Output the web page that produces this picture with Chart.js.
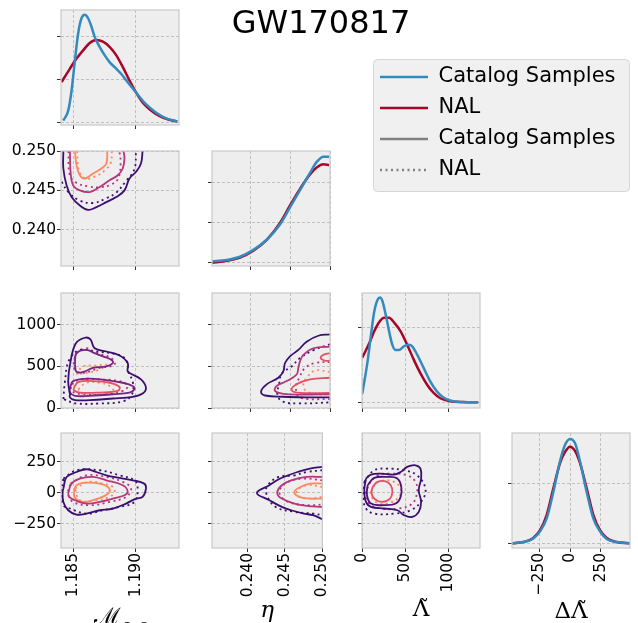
<!DOCTYPE html>
<html>
<head>
<meta charset="utf-8">
<script src="https://cdn.jsdelivr.net/npm/chart.js@4.4.1/dist/chart.umd.min.js"></script>
<style>
  html, body { margin: 0; padding: 0; background: #fff; width: 638px; height: 623px; overflow: hidden; }
  canvas { position: absolute; }
</style>
</head>
<body>
<canvas id="figure" width="638" height="623" style="left:0;top:0"></canvas>
<script>
// GW170817 corner plot: catalog samples vs NAL

// ---- tick values / labels ----
const mcTicks = [1.185, 1.190];
const mcTickLabels = ['1.185', '1.190'];
const etaTicks = [0.240, 0.245, 0.250];
const etaTickLabels = ['0.240', '0.245', '0.250'];
const lamTicks = [0, 500, 1000];
const lamTickLabels = ['0', '500', '1000'];
const dlamTicks = [-250, 0, 250];
const dlamTickLabels = ['\u2212250', '0', '250'];
const densityTicks2 = [0, 1, 2];
const densityTicks1 = [0, 1];

// ---- 1D marginals ----
const mcCatX = [1.18418,1.18458,1.18485,1.18512,1.18538,1.18565,1.18592,1.18618,1.18645,1.18671,1.18711,1.18751,1.18791,1.18844,1.18884,1.18924,1.19004,1.19084,1.19164,1.19243,1.19336];
const mcCatY = [0.05,0.28,0.74,1.44,2.06,2.41,2.49,2.41,2.22,1.98,1.75,1.56,1.40,1.25,1.13,0.98,0.70,0.43,0.24,0.11,0.03];
const mcNalX = [1.18405,1.18472,1.18525,1.18578,1.18631,1.18685,1.18738,1.18791,1.18844,1.18897,1.18951,1.19004,1.19057,1.19110,1.19190,1.19270,1.19336];
const mcNalY = [0.94,1.25,1.48,1.67,1.84,1.91,1.87,1.75,1.56,1.29,0.98,0.70,0.47,0.32,0.16,0.07,0.03];

const etaX = [0.23521,0.23709,0.23875,0.24042,0.24209,0.24375,0.24500,0.24625,0.24750,0.24834,0.24917,0.24990];
const etaCatY = [0.03,0.07,0.15,0.32,0.57,0.95,1.37,1.80,2.23,2.50,2.63,2.63];
const etaNalY = [0.00,0.05,0.13,0.30,0.57,0.99,1.42,1.83,2.19,2.36,2.44,2.42];

const lamCatX = [3,65,104,142,181,211,238,276,315,353,392,430,487,545,584,641,718,795,872,948,1025,1140,1351];
const lamCatY = [0.12,0.55,0.90,1.21,1.37,1.40,1.35,1.17,0.95,0.77,0.70,0.70,0.75,0.77,0.75,0.64,0.46,0.28,0.15,0.07,0.03,0.01,0.005];
const lamNalX = [3,84,142,199,257,315,372,449,526,603,680,757,833,910,1025,1179,1351];
const lamNalY = [0.60,0.79,0.95,1.07,1.13,1.13,1.07,0.95,0.77,0.57,0.39,0.24,0.13,0.06,0.02,0.01,0.005];

const dlamX = [-468,-376,-296,-242,-188,-134,-81,-40,0,40,81,134,188,242,296,376,484];
const dlamCatY = [0,0.02,0.08,0.20,0.42,0.87,1.38,1.66,1.76,1.69,1.38,0.87,0.42,0.20,0.07,0.02,0];
const dlamNalY = [0,0.02,0.09,0.22,0.48,0.93,1.35,1.54,1.63,1.56,1.35,0.93,0.48,0.22,0.09,0.02,0];

// ---- 2D contours, [x, y] pairs, outer level first ----
const mcEtaCat = [
  [[1.18419,0.2500],[1.18419,0.24778],[1.18445,0.24564],[1.18485,0.24415],[1.18552,0.24308],[1.18618,0.24253],[1.18685,0.24287],[1.18765,0.24351],[1.18844,0.24415],[1.18911,0.24500],[1.18951,0.24650],[1.19004,0.24736],[1.19044,0.24842],[1.19057,0.2500]],
  [[1.18472,0.2500],[1.18477,0.24736],[1.18498,0.24564],[1.18552,0.24500],[1.18631,0.24479],[1.18711,0.24543],[1.18791,0.24628],[1.18857,0.24692],[1.18897,0.24778],[1.18911,0.24906],[1.18903,0.2500]],
  [[1.18512,0.2500],[1.18525,0.24821],[1.18552,0.24692],[1.18592,0.24650],[1.18658,0.24714],[1.18725,0.24778],[1.18765,0.24842],[1.18773,0.2500]]
];
const mcEtaNal = [
  [[1.18405,0.2461],[1.18458,0.2448],[1.18552,0.2437],[1.18658,0.2434],[1.18765,0.2440],[1.18844,0.2447],[1.18924,0.2462],[1.18991,0.2477],[1.19004,0.2500]],
  [[1.18460,0.2500],[1.18470,0.2470],[1.18520,0.2460],[1.18620,0.2455],[1.18720,0.2454],[1.18800,0.2457],[1.18860,0.2465],[1.18880,0.2485],[1.18870,0.2500]],
  [[1.18530,0.2500],[1.18545,0.2475],[1.18600,0.2465],[1.18680,0.2468],[1.18750,0.2475],[1.18800,0.2485],[1.18810,0.2500]]
];

const mcLamCat = [
  [[1.18472,165],[1.18458,323],[1.18477,559],[1.18520,776],[1.18592,843],[1.18637,823],[1.18671,717],[1.18765,678],[1.18871,630],[1.18937,540],[1.18937,441],[1.18964,410],[1.19044,343],[1.19084,244],[1.19057,173],[1.18977,134],[1.18818,114],[1.18631,95],[1.18512,95],[1.18472,126],[1.18472,165]],
  [[1.18512,520],[1.18525,658],[1.18605,697],[1.18671,658],[1.18738,619],[1.18804,579],[1.18818,540],[1.18765,500],[1.18658,481],[1.18578,433],[1.18525,433],[1.18512,520]],
  [[1.18472,244],[1.18498,323],[1.18605,351],[1.18765,335],[1.18897,303],[1.18977,264],[1.18991,225],[1.18951,185],[1.18818,165],[1.18631,146],[1.18512,146],[1.18472,185],[1.18472,244]],
  [[1.18504,244],[1.18538,311],[1.18658,323],[1.18791,303],[1.18871,252],[1.18857,205],[1.18711,185],[1.18552,185],[1.18504,213],[1.18504,244]]
];
const mcLamNal = [
  [[1.18419,106],[1.18432,323],[1.18466,579],[1.18552,697],[1.18671,678],[1.18844,646],[1.18924,579],[1.18945,422],[1.18977,323],[1.18972,165],[1.18897,79],[1.18711,55],[1.18525,55],[1.18419,106]],
  [[1.18525,658],[1.18605,717],[1.18685,658],[1.18804,599],[1.18831,520],[1.18711,481],[1.18578,422],[1.18512,461],[1.18504,559],[1.18525,658]],
  [[1.18485,284],[1.18552,343],[1.18711,343],[1.18871,323],[1.18937,264],[1.18897,205],[1.18765,165],[1.18578,165],[1.18485,205],[1.18485,284]],
  [[1.18538,225],[1.18605,303],[1.18711,303],[1.18791,264],[1.18818,205],[1.18711,165],[1.18578,165],[1.18538,225]],
  [[1.18525,402],[1.18578,500],[1.18685,508],[1.18765,520],[1.18711,461],[1.18605,422],[1.18525,402]]
];

const etaLamCat = [
  [[0.2500,883],[0.24854,867],[0.24708,796],[0.24604,697],[0.24500,619],[0.24438,540],[0.24417,441],[0.24354,363],[0.24208,284],[0.24138,197],[0.24188,150],[0.24417,135],[0.24750,128],[0.2500,128]],
  [[0.2500,737],[0.24792,717],[0.24667,638],[0.24625,559],[0.24604,481],[0.24583,402],[0.24458,323],[0.24333,264],[0.24313,205],[0.24417,170],[0.24625,160],[0.2500,165]],
  [[0.2500,658],[0.24917,638],[0.24883,599],[0.24938,567],[0.2500,567]],
  [[0.2500,363],[0.24750,343],[0.24583,284],[0.24521,213],[0.24625,181],[0.2500,181]]
];
const etaLamNal = [
  [[0.2500,765],[0.24792,693],[0.24625,599],[0.24521,500],[0.24396,410],[0.24363,284],[0.24342,165],[0.24404,79],[0.24625,55],[0.2500,67]],
  [[0.2500,552],[0.24813,540],[0.24688,481],[0.24625,382],[0.24575,244],[0.24625,126],[0.2500,106]],
  [[0.2500,433],[0.24813,449],[0.24708,363],[0.24667,284],[0.24700,205],[0.24833,165],[0.2500,165]]
];

const mcDlamCat = [
  [[1.18419,35],[1.18445,129],[1.18525,169],[1.18605,191],[1.18685,169],[1.18765,142],[1.18871,121],[1.18977,102],[1.19070,75],[1.19084,35],[1.19057,-32],[1.19004,-46],[1.18924,-86],[1.18818,-126],[1.18711,-140],[1.18605,-167],[1.18525,-175],[1.18458,-140],[1.18419,-73],[1.18413,8],[1.18419,35]],
  [[1.18458,-5],[1.18485,75],[1.18552,116],[1.18658,129],[1.18765,102],[1.18897,62],[1.18937,13],[1.18911,-19],[1.18818,-46],[1.18711,-73],[1.18605,-86],[1.18512,-59],[1.18466,-32],[1.18458,-5]],
  [[1.18504,8],[1.18525,62],[1.18605,83],[1.18711,75],[1.18778,48],[1.18791,8],[1.18751,-24],[1.18658,-59],[1.18578,-73],[1.18512,-40],[1.18504,8]]
];
const mcDlamNal = [
  [[1.18419,116],[1.18525,183],[1.18711,183],[1.18871,142],[1.18991,102],[1.19017,35],[1.18991,-73],[1.18871,-113],[1.18738,-140],[1.18605,-167],[1.18472,-126],[1.18419,-99],[1.18405,8],[1.18419,116]],
  [[1.18477,75],[1.18605,142],[1.18765,129],[1.18897,89],[1.18964,35],[1.18924,-32],[1.18791,-73],[1.18631,-99],[1.18498,-73],[1.18458,-5],[1.18477,75]],
  [[1.18512,35],[1.18618,89],[1.18738,75],[1.18818,48],[1.18831,8],[1.18791,-32],[1.18685,-59],[1.18552,-59],[1.18512,35]]
];

const etaDlamCat = [
  [[0.2500,210],[0.24833,196],[0.24667,169],[0.24542,142],[0.24417,110],[0.24292,62],[0.24125,0],[0.24292,-59],[0.24458,-113],[0.24583,-140],[0.24750,-167],[0.24875,-180],[0.2500,-212]],
  [[0.2500,129],[0.24792,129],[0.24583,102],[0.24458,62],[0.24396,0],[0.24458,-46],[0.24625,-86],[0.24792,-105],[0.2500,-113]],
  [[0.2500,75],[0.24833,75],[0.24708,48],[0.24625,8],[0.24688,-32],[0.24833,-46],[0.2500,-46]]
];
const etaDlamNal = [
  [[0.2500,183],[0.24792,169],[0.24625,142],[0.24417,129],[0.24271,62],[0.24250,-5],[0.24375,-113],[0.24625,-153],[0.24875,-167],[0.2500,-180]],
  [[0.2500,102],[0.24750,116],[0.24542,89],[0.24438,35],[0.24438,-19],[0.24542,-73],[0.24792,-99],[0.2500,-94]],
  [[0.2500,48],[0.24792,62],[0.24667,22],[0.24667,-19],[0.24792,-46],[0.2500,-32]]
];

const lamDlamCat = [
  [[46,116],[104,148],[219,156],[372,148],[449,169],[526,210],[622,223],[680,196],[687,116],[660,22],[687,-73],[660,-153],[584,-194],[488,-180],[411,-140],[257,-126],[104,-113],[46,-73],[27,22],[46,116]],
  [[65,62],[142,121],[296,129],[411,116],[457,48],[449,-32],[392,-86],[257,-99],[104,-86],[58,-19],[65,62]],
  [[123,48],[180,89],[276,94],[334,62],[353,8],[326,-46],[238,-73],[150,-51],[111,-5],[123,48]]
];
const lamDlamNal = [
  [[27,89],[142,183],[296,196],[488,183],[641,142],[737,35],[699,-59],[564,-140],[372,-167],[142,-167],[46,-126],[19,-46],[27,89]],
  [[84,75],[180,142],[334,156],[526,142],[622,89],[641,8],[584,-86],[430,-126],[219,-126],[84,-86],[46,-5],[84,75]],
  [[104,8],[161,75],[257,102],[372,89],[449,35],[430,-32],[334,-78],[200,-86],[123,-46],[104,8]]
];

const legendLabels = ['Catalog Samples', 'NAL', 'Catalog Samples', 'NAL'];

// ---- styling ----
const BLUE = '#348ABD', RED = '#A60628', GREY = '#808080';
const DARK = '#3b0f70', PURPLE = '#7b2382', MAGENTA = '#b5367a', PINK = '#e55064', SALMON = '#fc8961', DEEP = '#4f127b';
const DOTS = [2, 3.5];

Chart.defaults.font.family = '"DejaVu Sans", sans-serif';
Chart.defaults.color = '#000';

const boxLeft = [61, 212, 362, 512];
const boxTop = [10, 151, 293, 433];
const BOX_W = 118, BOX_H = 115, PAD_L = 55, PAD_T = 12, PAD_R = 12, PAD_B = 80;

const axes = {
  mc:   { min: 1.1840, max: 1.1935, ticks: mcTicks, labels: mcTickLabels, title: '\u2133', sub: 'c, s', italic: false, dy: 76 },
  eta:  { min: 0.23525, max: 0.2500, ticks: etaTicks, labels: etaTickLabels, title: '\u03b7', italic: true, dy: 69 },
  lam:  { min: 0, max: 1372, ticks: lamTicks, labels: lamTickLabels, title: '\u039b\u0303', italic: false, dy: 68 },
  dlam: { min: -468, max: 484, ticks: dlamTicks, labels: dlamTickLabels, title: '\u0394\u039b\u0303', italic: false, dy: 70 }
};
const yLimits = {
  eta: [0.2354, 0.2500],
  lam: [0, 1380],
  dlam: [-445, 484]
};

const panelFrame = {
  id: 'panelFrame',
  beforeDraw(chart) {
    const { ctx, chartArea: a } = chart;
    ctx.save();
    ctx.fillStyle = '#eeeeee';
    ctx.fillRect(a.left, a.top, a.width, a.height);
    ctx.restore();
  },
  afterDatasetsDraw(chart) {
    const { ctx, chartArea: a } = chart;
    ctx.save();
    ctx.strokeStyle = '#c8c8c8';
    ctx.lineWidth = 1.2;
    ctx.strokeRect(a.left, a.top, a.width, a.height);
    ctx.restore();
  }
};

// x axis label, with optional subscript
const axisLabel = {
  id: 'axisLabel',
  afterDraw(chart, args, opts) {
    if (!opts || !opts.text) return;
    const { ctx, chartArea: a } = chart;
    const mainFont = (opts.italic ? 'italic ' : '') + '23px "DejaVu Serif", serif';
    const subFont = 'italic 15px "DejaVu Serif", serif';
    ctx.save();
    ctx.fillStyle = '#000';
    ctx.textBaseline = 'alphabetic';
    ctx.font = mainFont;
    const mw = ctx.measureText(opts.text).width;
    let sw = 0;
    if (opts.sub) { ctx.font = subFont; sw = ctx.measureText(opts.sub).width; }
    const x0 = (a.left + a.right) / 2 - (mw + sw) / 2;
    const y0 = a.bottom + opts.dy;
    ctx.font = mainFont;
    ctx.fillText(opts.text, x0, y0);
    if (opts.sub) { ctx.font = subFont; ctx.fillText(opts.sub, x0 + mw + 1, y0 + 6); }
    ctx.restore();
  }
};

function scaleOpts(isX, min, max, ticks, labels, showLabels) {
  return {
    type: 'linear',
    min: min,
    max: max,
    afterBuildTicks: s => { s.ticks = ticks.map(v => ({ value: v })); },
    afterFit: s => { if (isX) s.height = PAD_B; else s.width = PAD_L; },
    grid: { color: '#b4b4b4', lineWidth: 0.8, borderDash: [3, 2], drawTicks: true, tickLength: 4, tickColor: '#333', tickWidth: 1, tickBorderDash: [] },
    border: { display: false, dash: [3, 2] },
    ticks: {
      display: showLabels,
      autoSkip: false,
      padding: 1,
      color: '#000',
      font: { size: 15.5 },
      minRotation: isX ? 90 : 0,
      maxRotation: isX ? 90 : 0,
      callback: (v, i) => labels ? labels[i] : ''
    }
  };
}

function curve(xs, ys, color) {
  return {
    data: xs.map((x, i) => ({ x: x, y: ys[i] })),
    borderColor: color, borderWidth: 2.5, pointRadius: 0, showLine: true,
    cubicInterpolationMode: 'monotone', fill: false
  };
}

function contours(lines, colors, dotted) {
  return lines.map((pts, i) => ({
    data: pts.map(p => ({ x: p[0], y: p[1] })),
    borderColor: colors[i], borderWidth: 1.8, borderDash: dotted ? DOTS : [],
    pointRadius: 0, showLine: true, tension: 0.4, fill: false
  }));
}

function makePanel(row, col, xKey, yRange, yTicks, yLabels, datasets, showX, showY) {
  const c = document.createElement('canvas');
  c.width = PAD_L + BOX_W + PAD_R;
  c.height = PAD_T + BOX_H + PAD_B;
  c.style.left = (boxLeft[col] - PAD_L) + 'px';
  c.style.top = (boxTop[row] - PAD_T) + 'px';
  document.body.appendChild(c);
  const ax = axes[xKey];
  return new Chart(c, {
    type: 'scatter',
    data: { datasets: datasets },
    options: {
      responsive: false,
      animation: false,
      events: [],
      layout: { padding: { top: PAD_T, right: PAD_R, left: 0, bottom: 0 } },
      scales: {
        x: scaleOpts(true, ax.min, ax.max, ax.ticks, ax.labels, showX),
        y: scaleOpts(false, yRange[0], yRange[1], yTicks, yLabels, showY)
      },
      plugins: {
        legend: { display: false },
        tooltip: { enabled: false },
        axisLabel: showX ? { text: ax.title, sub: ax.sub, italic: ax.italic, dy: ax.dy } : {}
      }
    },
    plugins: [panelFrame, axisLabel]
  });
}

// figure title
new Chart(document.getElementById('figure'), {
  type: 'scatter',
  data: { datasets: [] },
  options: {
    responsive: false, animation: false, events: [],
    layout: { padding: { left: 4 } },
    scales: { x: { display: false }, y: { display: false } },
    plugins: {
      legend: { display: false },
      title: { display: true, text: 'GW170817', color: '#000', font: { size: 32, weight: 'normal' }, padding: { top: 5, bottom: 0 } }
    }
  }
});

// diagonal
makePanel(0, 0, 'mc', [-0.05, 2.6], densityTicks2, null,
  [curve(mcCatX, mcCatY, BLUE), curve(mcNalX, mcNalY, RED)], false, false);
makePanel(1, 1, 'eta', [-0.08, 2.77], densityTicks2, null,
  [curve(etaX, etaCatY, BLUE), curve(etaX, etaNalY, RED)], false, false);
makePanel(2, 2, 'lam', [-0.07, 1.46], densityTicks1, null,
  [curve(lamCatX, lamCatY, BLUE), curve(lamNalX, lamNalY, RED)], false, false);
makePanel(3, 3, 'dlam', [-0.08, 1.86], densityTicks1, null,
  [curve(dlamX, dlamCatY, BLUE), curve(dlamX, dlamNalY, RED)], true, false);

// off-diagonal
makePanel(1, 0, 'mc', yLimits.eta, etaTicks, etaTickLabels,
  contours(mcEtaCat, [DARK, MAGENTA, SALMON], false).concat(contours(mcEtaNal, [DARK, MAGENTA, SALMON], true)), false, true);
makePanel(2, 0, 'mc', yLimits.lam, lamTicks, lamTickLabels,
  contours(mcLamCat, [DARK, PURPLE, PURPLE, PINK], false).concat(contours(mcLamNal, [DARK, MAGENTA, MAGENTA, SALMON, SALMON], true)), false, true);
makePanel(2, 1, 'eta', yLimits.lam, lamTicks, null,
  contours(etaLamCat, [DARK, MAGENTA, PINK, PINK], false).concat(contours(etaLamNal, [DARK, MAGENTA, SALMON], true)), false, false);
makePanel(3, 0, 'mc', yLimits.dlam, dlamTicks, dlamTickLabels,
  contours(mcDlamCat, [DARK, MAGENTA, SALMON], false).concat(contours(mcDlamNal, [DARK, MAGENTA, SALMON], true)), true, true);
makePanel(3, 1, 'eta', yLimits.dlam, dlamTicks, null,
  contours(etaDlamCat, [DARK, MAGENTA, SALMON], false).concat(contours(etaDlamNal, [DARK, MAGENTA, SALMON], true)), true, false);
makePanel(3, 2, 'lam', yLimits.dlam, dlamTicks, null,
  contours(lamDlamCat, [DARK, DEEP, PINK], false).concat(contours(lamDlamNal, [DARK, MAGENTA, SALMON], true)), true, false);

// legend
const legendFrame = {
  id: 'legendFrame',
  beforeDraw(chart) {
    const ctx = chart.ctx;
    ctx.save();
    ctx.beginPath();
    ctx.roundRect(13.5, 9.5, 256, 132, 4);
    ctx.fillStyle = '#f0f0f0';
    ctx.fill();
    ctx.strokeStyle = '#d6d6d6';
    ctx.lineWidth = 1;
    ctx.stroke();
    ctx.restore();
  }
};
const legendCanvas = document.createElement('canvas');
legendCanvas.width = 278;
legendCanvas.height = 320;
legendCanvas.style.left = '360px';
legendCanvas.style.top = '50px';
document.body.appendChild(legendCanvas);
const legendColors = [BLUE, RED, GREY, GREY];
new Chart(legendCanvas, {
  type: 'line',
  data: {
    datasets: legendLabels.map((label, i) => ({
      label: label, data: [], borderColor: legendColors[i], backgroundColor: legendColors[i],
      borderWidth: 2.5, borderDash: i === 3 ? DOTS : []
    }))
  },
  options: {
    responsive: false, animation: false, events: [],
    layout: { padding: { left: 10, top: 6.5 } },
    scales: { x: { display: false }, y: { display: false } },
    plugins: {
      tooltip: { enabled: false },
      legend: {
        position: 'top', align: 'start',
        labels: {
          usePointStyle: true, pointStyle: 'line', pointStyleWidth: 48, padding: 10,
          color: '#1a1a1a', font: { size: 21 },
          generateLabels: chart => chart.data.datasets.map((ds, i) => ({
            text: ds.label,
            strokeStyle: ds.borderColor,
            fillStyle: ds.borderColor,
            lineWidth: ds.borderWidth,
            lineDash: ds.borderDash,
            pointStyle: 'line',
            hidden: false,
            datasetIndex: i
          }))
        }
      }
    }
  },
  plugins: [legendFrame]
});
</script>
</body>
</html>
